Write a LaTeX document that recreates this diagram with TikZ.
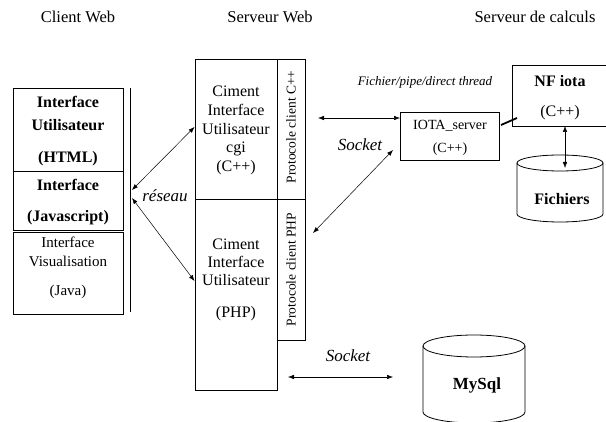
\documentclass[tikz,border=0pt]{standalone}
\usepackage{fontspec}
\setmainfont{Liberation Serif}
\usetikzlibrary{arrows.meta}
\tikzset{
  box/.style={draw, line width=0.8pt, inner sep=0pt, anchor=north west},
  conn/.style={{Latex[length=6pt,width=4.5pt]}-{Latex[length=6pt,width=4.5pt]}, line width=0.5pt},
  txt/.style={align=center, inner sep=0pt},
  head/.style={inner sep=0pt, font=\fontsize{16.5}{19}\selectfont},
  lbl/.style={inner sep=0pt, font=\itshape\fontsize{17}{19}\selectfont},
}
\begin{document}
\begin{tikzpicture}[x=1pt,y=-1pt]
\useasboundingbox (0,0) rectangle (606,422);

% headers
\node[head] (h1) at (78,17) {Client Web};
\node[head] (h2) at (270,17) {Serveur Web};
\node[head] (h3) at (535,17) {Serveur de calculs};

% client web
\node[box, minimum width=110pt, minimum height=83pt] (html) at (13,88) {};
\node[box, minimum width=110pt, minimum height=59pt] (js) at (13,171) {};
\node[box, minimum width=110pt, minimum height=82pt] (java) at (13,232) {};
\node[txt, font=\bfseries\fontsize{16}{23}\selectfont] (thtml) at (68,131) {Interface\\Utilisateur\\[9pt](HTML)};
\node[txt, font=\bfseries\fontsize{16}{19}\selectfont] (tjs) at (68,202) {Interface\\[12pt](Javascript)};
\node[txt, font=\fontsize{15}{19}\selectfont] (tjava) at (68,268) {Interface\\Visualisation\\[10pt](Java)};
\draw[line width=0.8pt] (130,88) -- (130,312);

% serveur web
\node[box, minimum width=82pt, minimum height=140pt] (cgi) at (195,59) {};
\node[box, minimum width=82pt, minimum height=191pt] (php) at (195,199) {};
\node[box, minimum width=28pt, minimum height=140pt] (protc) at (277,59) {};
\node[box, minimum width=28pt, minimum height=141pt] (protp) at (277,199) {};
\node[txt, font=\fontsize{16}{18.75}\selectfont] (tcgi) at (236,130.5) {Ciment\\Interface\\Utilisateur\\cgi\\(C++)};
\node[txt, font=\fontsize{16}{18}\selectfont] (tphp) at (236,280) {Ciment\\Interface\\Utilisateur\\[14pt](PHP)};
\node[inner sep=0pt, rotate=90, font=\fontsize{13.5}{16}\selectfont] (tprotc) at (291,127) {Protocole client C++};
\node[inner sep=0pt, rotate=90, font=\fontsize{13.5}{16}\selectfont] (tprotp) at (291,269.5) {Protocole client PHP};

% serveur de calculs
\node[box, minimum width=99pt, minimum height=48pt] (iota) at (400,112) {};
\node[txt, font=\fontsize{14}{23}\selectfont] (tiota) at (450,138) {IOTA\_server\\(C++)};
\node[box, minimum width=93.5pt, minimum height=61pt] (nf) at (512,65) {};
\node[txt, font=\fontsize{16}{30}\selectfont] (tnf) at (560,98) {\textbf{NF iota}\\(C++)};
\node[inner sep=0pt, font=\itshape\fontsize{13}{15}\selectfont] (tfich) at (425,82) {Fichier/pipe/direct thread};

% cylinders
\draw[line width=0.8pt] (560,163) ellipse [x radius=43pt, y radius=8pt];
\draw[line width=0.8pt] (517,163) -- (517,214) arc[start angle=180, end angle=360, x radius=43pt, y radius=8pt] -- (603,163);
\node[inner sep=0pt, font=\bfseries\fontsize{16}{19}\selectfont] (fich) at (562,199) {Fichiers};

\draw[line width=0.8pt] (474,346) ellipse [x radius=51pt, y radius=11pt];
\draw[line width=0.8pt] (423,346) -- (423,412) arc[start angle=180, end angle=360, x radius=51pt, y radius=11pt] -- (525,346);
\node[inner sep=0pt, font=\bfseries\fontsize{17}{19}\selectfont] (mysql) at (477,385) {MySql};

% labels
\node[lbl] (reseau) at (165,196) {réseau};
\node[lbl] (sock1) at (360,145) {Socket};
\node[lbl] (sock2) at (348,356) {Socket};

% connector end points
\coordinate (rA) at (132,190);
\coordinate (rB) at (132,198);
\coordinate (cgiIn) at (194.5,127);
\coordinate (phpIn) at (194.5,281);
\coordinate (pcOut) at (318,118);
\coordinate (iotaW) at (400,118);
\coordinate (ppOut) at (313,233);
\coordinate (iotaSW) at (393,150);
\coordinate (nfS) at (565,126);
\coordinate (fichT) at (565,168);
\coordinate (phpOut) at (288,377);
\coordinate (sqlW) at (393,377);
\coordinate (iotaE) at (501,125);
\coordinate (nfW) at (517,118);

\draw[conn] (rA) -- (cgiIn);
\draw[conn] (rB) -- (phpIn);
\draw[conn] (pcOut) -- (iotaW);
\draw[conn] (ppOut) -- (iotaSW);
\draw[conn] (nfS) -- (fichT);
\draw[conn] (phpOut) -- (sqlW);
\draw[line width=1.8pt] (iotaE) -- (nfW);
\end{tikzpicture}
\end{document}
